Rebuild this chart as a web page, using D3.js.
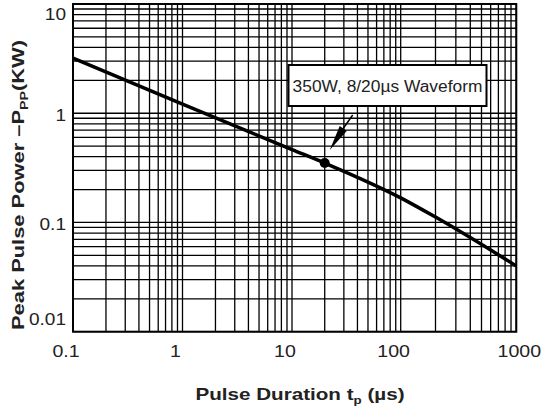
<!DOCTYPE html>
<html>
<head>
<meta charset="utf-8">
<script src="https://cdn.jsdelivr.net/npm/d3@7"></script>
<style>
  body { margin: 0; background: #fff; }
  text { font-family: "Liberation Sans", Arial, sans-serif; }
</style>
</head>
<body>
<div class="chart"></div>
<script>
// pulse duration (us) vs peak pulse power (kW)
var pulseDuration = [0.1, 1, 10, 20, 100, 200, 1000];
var peakPower = [3.2, 1.21, 0.465, 0.35, 0.168, 0.112, 0.04];

var xTicks = [0.1, 1, 10, 100, 1000];
var yTicks = [0.01, 0.1, 1, 10];
var xTickLabels = ["0.1", "1", "10", "100", "1000"];
var yTickLabels = ["0.01", "0.1", "1", "10"];

// marked point on curve
var markerPoint = [20, 0.35];
var markerText = "350W, 8/20\u00b5s Waveform";

var width = 545, height = 414;
var svg = d3.select(".chart")
    .append("svg")
    .attr("width", width)
    .attr("height", height);

// the datasheet grid is not perfectly regular, so decades are pinned
var x = d3.scaleLog()
    .domain(xTicks)
    .range([73, 182.5, 292, 400.7, 516.3]);
var y = d3.scaleLog()
    .domain([0.01, 10])
    .range([331.7, 4]);

// the scanned text is a bit wider than Arial, stretch it
function stretch(t, k) {
    var w = t.node().getComputedTextLength();
    t.attr("textLength", w * k).attr("lengthAdjust", "spacingAndGlyphs");
    return t;
}

// minor grid values: 1..9 per decade
function gridValues(lo, hi) {
    var out = [];
    for (var d = lo; d < hi; d *= 10) {
        for (var k = 1; k <= 9; k++) out.push(d * k);
    }
    out.push(hi);
    return out;
}

var grid = svg.append("g").attr("class", "grid");
gridValues(0.1, 1000).forEach(function (v) {
    grid.append("line")
        .attr("x1", x(v)).attr("x2", x(v))
        .attr("y1", y(0.01)).attr("y2", y(10))
        .attr("stroke", "#000")
        .attr("stroke-width", 1.3);
});
gridValues(0.01, 10).forEach(function (v) {
    grid.append("line")
        .attr("x1", x(0.1)).attr("x2", x(1000))
        .attr("y1", y(v)).attr("y2", y(v))
        .attr("stroke", "#000")
        .attr("stroke-width", 1.3);
});

// frame
svg.append("rect")
    .attr("x", x(0.1))
    .attr("y", y(10))
    .attr("width", x(1000) - x(0.1))
    .attr("height", y(0.01) - y(10))
    .attr("fill", "none")
    .attr("stroke", "#000")
    .attr("stroke-width", 2);

// tick labels
var xl = svg.append("g").attr("class", "x-labels");
xTicks.forEach(function (v, i) {
    var t = xl.append("text")
        .attr("x", x(v))
        .attr("dx", i == xTicks.length - 1 ? 3 : -7)
        .attr("y", 357)
        .attr("text-anchor", "middle")
        .attr("font-size", 17)
        .attr("fill", "#222")
        .text(xTickLabels[i]);
    stretch(t, 1.15);
});
var yl = svg.append("g").attr("class", "y-labels");
yTicks.forEach(function (v, i) {
    var yy = Math.max(14, Math.min(319, y(v) + 2));
    var t = yl.append("text")
        .attr("x", 66)
        .attr("y", yy)
        .attr("dy", "0.35em")
        .attr("text-anchor", "end")
        .attr("font-size", 17)
        .attr("fill", "#222")
        .text(yTickLabels[i]);
    stretch(t, 1.12);
});

// curve
var pts = pulseDuration.map(function (d, i) { return [d, peakPower[i]]; });
svg.append("path")
    .datum(pts)
    .attr("d", d3.line()
        .x(function (d) { return x(d[0]); })
        .y(function (d) { return y(d[1]); })
        .curve(d3.curveMonotoneX))
    .attr("fill", "none")
    .attr("stroke", "#000")
    .attr("stroke-width", 3.5)
    .attr("stroke-linejoin", "round");

// marker dot + arrow + label box
var mx = x(markerPoint[0]), my = y(markerPoint[1]);
svg.append("circle")
    .attr("cx", mx).attr("cy", my)
    .attr("r", 5)
    .attr("fill", "#000");

svg.append("line")
    .attr("x1", mx + 28).attr("y1", my - 48)
    .attr("x2", mx + 16).attr("y2", my - 31)
    .attr("stroke", "#000")
    .attr("stroke-width", 1.5);
svg.append("path")
    .attr("d", "M" + (mx + 5) + "," + (my - 13) +
        " L" + (mx + 15) + "," + (my - 37) +
        " L" + (mx + 22) + "," + (my - 32) + " Z")
    .attr("fill", "#000");

var box = svg.append("g").attr("class", "note");
box.append("rect")
    .attr("x", 288.5).attr("y", 65)
    .attr("width", 198).attr("height", 41)
    .attr("fill", "#fff")
    .attr("stroke", "#000")
    .attr("stroke-width", 2);
var nt = box.append("text")
    .attr("x", 387.5).attr("y", 92)
    .attr("text-anchor", "middle")
    .attr("font-size", 16)
    .attr("fill", "#222")
    .text(markerText);
stretch(nt, 1.085);

// axis titles
var xt = svg.append("text")
    .attr("x", 300).attr("y", 400)
    .attr("text-anchor", "middle")
    .attr("font-size", 17)
    .attr("font-weight", "bold")
    .attr("fill", "#222");
xt.append("tspan").text("Pulse Duration t");
xt.append("tspan").attr("font-size", 11).attr("dy", 4).text("p");
xt.append("tspan").attr("dy", -4).text(" (\u00b5s)");
xt.attr("textLength", 209).attr("lengthAdjust", "spacingAndGlyphs");

var yt = svg.append("text")
    .attr("transform", "translate(24,185) rotate(-90)")
    .attr("text-anchor", "middle")
    .attr("font-size", 17)
    .attr("font-weight", "bold")
    .attr("fill", "#222");
yt.append("tspan").text("Peak Pulse Power \u2013P");
yt.append("tspan").attr("font-size", 11).attr("dy", 4).text("PP");
yt.append("tspan").attr("dy", -4).text("(KW)");
yt.attr("textLength", 290).attr("lengthAdjust", "spacingAndGlyphs");
</script>
</body>
</html>
